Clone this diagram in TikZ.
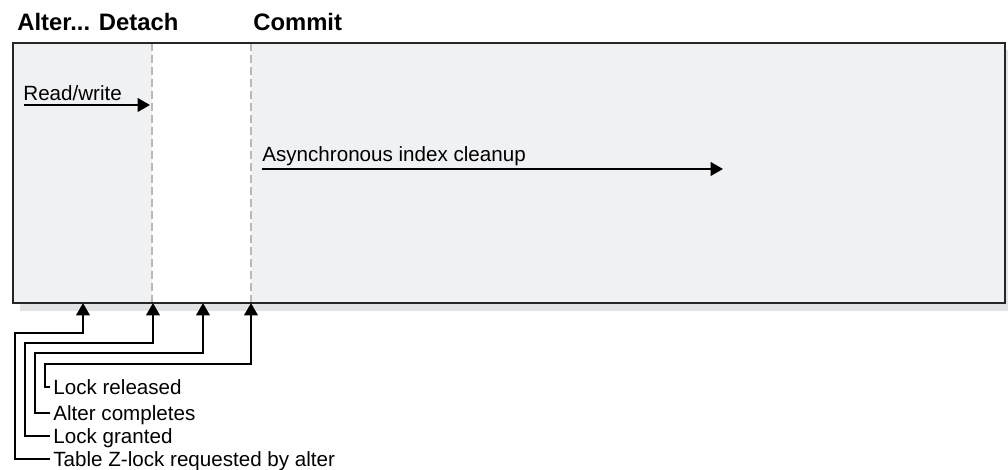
\documentclass[tikz,border=0pt]{standalone}
\usepackage{fontspec}
\setmainfont{Liberation Sans}
\usepackage{xcolor}
\usetikzlibrary{arrows.meta, positioning, calc}
\definecolor{panelgray}{HTML}{F0F1F3}
\definecolor{shadowgray}{HTML}{E2E3E5}
\definecolor{framegray}{HTML}{262626}
\definecolor{splitgray}{HTML}{B9B9B9}

\begin{document}
\begin{tikzpicture}[
    x=0.5pt, y=-0.5pt,
    heading/.style={
        font=\fontsize{11.9}{13}\selectfont\bfseries,
        anchor=base west, inner sep=0pt,
    },
    note/.style={
        font=\fontsize{10.3}{12}\selectfont,
        anchor=base west, inner sep=0pt,
    },
    eventtext/.style={
        font=\fontsize{10.3}{12}\selectfont,
        anchor=west, inner xsep=1.5pt, inner ysep=0pt,
        text height=7.4pt, text depth=0pt,
    },
    flow/.style={
        draw=black, line width=1.15pt,
        -{Triangle[length=6.2pt, width=6.8pt]},
    },
    split/.style={
        draw=splitgray, line width=0.75pt,
        dash pattern=on 4pt off 2pt,
    },
]
\useasboundingbox (0,0) rectangle (1008,470);

% Panel with shadow
\fill[shadowgray] (20,50) rectangle (1008,311);
\fill[panelgray] (13,43) rectangle (1005,303);
\fill[white] (152,43) rectangle (251,303);

% Split lines
\coordinate (detachtop) at (152,43);
\coordinate (detachbot) at (152,303);
\coordinate (committop) at (251,43);
\coordinate (commitbot) at (251,303);
\draw[split] (detachtop) -- (detachbot);
\draw[split] (committop) -- (commitbot);

\draw[draw=framegray, line width=1.2pt] (13,43) rectangle (1005,303);

% Headings
\node[heading] (alter) at (17,31) {Alter... Detach};
\node[heading] (commit) at (253,31) {Commit};

% Flows inside the panel
\node[note] (rw) at (23,101) {Read/write};
\coordinate (rwtail) at (24,105);
\draw[flow] (rwtail) -- ([xshift=-1pt]rwtail -| detachtop);

\node[note] (cleanup) at (262,162) {Asynchronous index cleanup};
\coordinate (cleanuptail) at (262,169);
\coordinate (cleanuphead) at (723,169);
\draw[flow] (cleanuptail) -- (cleanuphead);

% Events on the time line
\coordinate (zlock) at (83,303);
\coordinate (granted) at (153,303);
\coordinate (completes) at (203,303);
\coordinate (released) at (251,303);

\node[eventtext] (relnote) at (50,387) {Lock released};
\node[eventtext] (compnote) at (50,413) {Alter completes};
\node[eventtext] (grantnote) at (50,436) {Lock granted};
\node[eventtext] (zlocknote) at (50,459) {Table Z-lock requested by alter};

\draw[flow] (relnote.west) -- ++(-5,0) |- ($(released)+(0,61)$) -- (released);
\draw[flow] (compnote.west) -- ++(-15,0) |- ($(completes)+(0,50)$) -- (completes);
\draw[flow] (grantnote.west) -- ++(-25,0) |- ($(granted)+(0,40)$) -- (granted);
\draw[flow] (zlocknote.west) -- ++(-35,0) |- ($(zlock)+(0,30)$) -- (zlock);

\end{tikzpicture}
\end{document}
